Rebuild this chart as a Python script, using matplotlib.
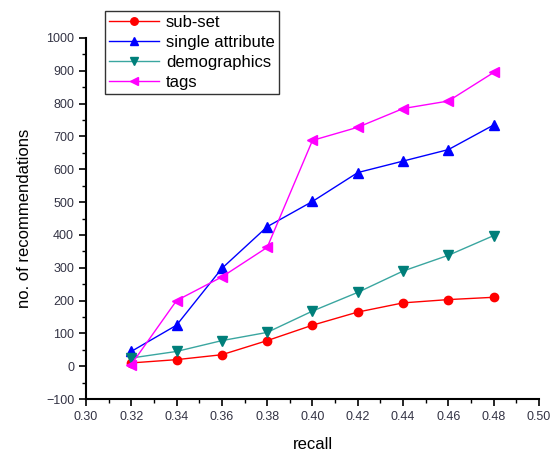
import matplotlib
matplotlib.use("Agg")
import matplotlib.pyplot as plt
from matplotlib.ticker import MultipleLocator

recall = [0.32, 0.34, 0.36, 0.38, 0.40, 0.42, 0.44, 0.46, 0.48]
subset = [10, 20, 35, 78, 125, 165, 193, 203, 210]
single_attr = [45, 125, 298, 425, 502, 590, 625, 660, 735]
demographics = [25, 45, 78, 103, 168, 225, 290, 338, 398]
tags = [5, 200, 272, 362, 688, 728, 785, 808, 895]

plt.rcParams['font.family'] = ['Liberation Sans', 'DejaVu Sans']

fig = plt.figure(figsize=(5.58, 4.55), dpi=100)
ax = fig.add_axes([0.154, 0.123, 0.812, 0.7935])

ax.plot(recall, subset, color='red', marker='o', markersize=6, lw=1, label='sub-set')
ax.plot(recall, single_attr, color='blue', marker='^', markersize=7, lw=1, label='single attribute')
ax.plot(recall, demographics, color='#3aa6a0', marker='v', markersize=7, lw=1,
        markerfacecolor='#007f7a', markeredgecolor='#007f7a', label='demographics')
ax.plot(recall, tags, color='magenta', marker='<', markersize=7, lw=1, label='tags')

ax.set_xlim(0.30, 0.50)
ax.set_ylim(-100, 1000)
ax.xaxis.set_major_locator(MultipleLocator(0.02))
ax.xaxis.set_minor_locator(MultipleLocator(0.01))
ax.yaxis.set_major_locator(MultipleLocator(100))
ax.yaxis.set_minor_locator(MultipleLocator(50))
ax.xaxis.set_major_formatter(matplotlib.ticker.FormatStrFormatter('%.2f'))

for s in ['top', 'right']:
    ax.spines[s].set_visible(False)
for s in ['left', 'bottom']:
    ax.spines[s].set_linewidth(1.5)

ax.tick_params(which='major', direction='out', length=5, width=1.2, labelsize=9, colors='black',
               labelcolor='#333344')
ax.tick_params(which='minor', direction='out', length=3, width=1)

ax.set_xlabel('recall', fontsize=12, labelpad=10)
ax.set_ylabel('no. of recommendations', fontsize=12, labelpad=10)

leg = fig.legend(loc='upper left', bbox_to_anchor=(105/558, 1 - 11/455), fontsize=12,
                 frameon=True, fancybox=False, edgecolor='black', borderpad=0.25,
                 labelspacing=0.3, handlelength=3.0, handletextpad=0.4, borderaxespad=0,
                 markerscale=0.9)
leg.get_frame().set_linewidth(1)

fig.savefig('out.png', dpi=100)
